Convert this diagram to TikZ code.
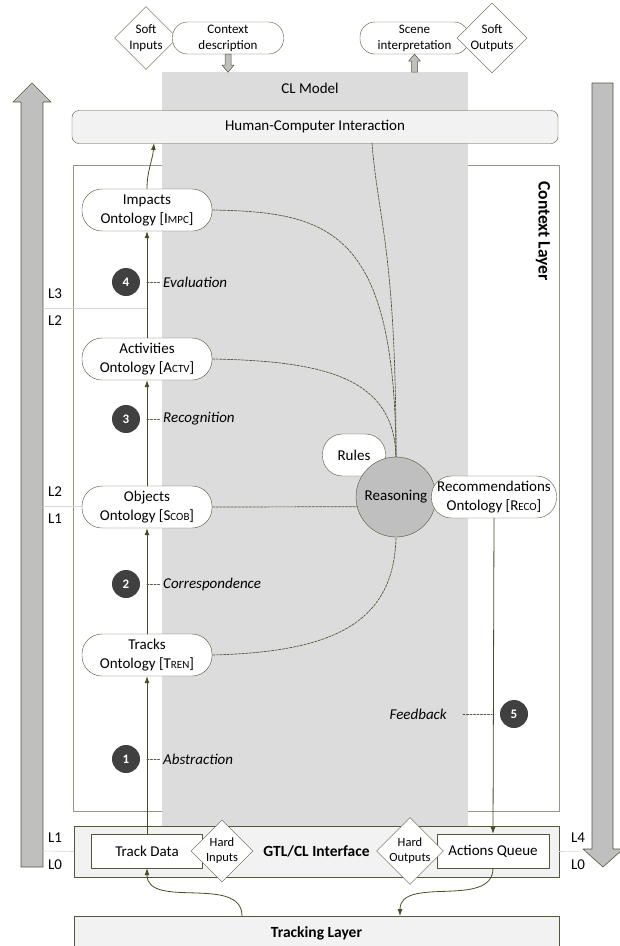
\documentclass[tikz,border=0pt]{standalone}
\usepackage{fontspec}
\setmainfont{Carlito}
\usetikzlibrary{shapes.geometric,arrows.meta}
\definecolor{olv}{RGB}{84,86,56}
\definecolor{arrc}{RGB}{66,80,32}
\definecolor{frm}{RGB}{150,150,128}
\definecolor{clg}{RGB}{220,220,220}
\definecolor{lgt}{RGB}{242,242,242}
\definecolor{midg}{RGB}{191,191,191}
\definecolor{dkg}{RGB}{64,64,64}
\definecolor{faint}{RGB}{215,215,215}
\newcommand{\fsc}[2]{#1{\fontsize{11}{12}\selectfont #2}}
\begin{document}
\begin{tikzpicture}[x=1pt, y=-1pt, line join=round, line cap=round, >={Latex[length=7pt,width=5pt]},
	font=\fontsize{15}{19}\selectfont,
	onto/.style={draw=olv, fill=white, rounded corners=20pt, minimum width=130pt, minimum height=42pt, inner sep=0pt, align=center},
	pill/.style={draw=olv, fill=white, rounded corners=15pt, minimum width=111pt, minimum height=32pt, inner sep=0pt, align=center, font=\fontsize{13}{16}\selectfont},
	dia/.style={diamond, aspect=1, draw=olv, fill=white, minimum size=62pt, inner sep=0pt, align=center, font=\fontsize{12.5}{15}\selectfont},
	box/.style={draw=olv, fill=white, minimum width=111pt, minimum height=34pt, inner sep=0pt},
	band/.style={draw=olv, fill=lgt, inner sep=0pt, font=\fontsize{15.5}{19}\selectfont\bfseries},
	num/.style={circle, fill=dkg, text=white, minimum size=28pt, inner sep=0pt, font=\fontsize{13}{15}\selectfont\bfseries},
	lab/.style={inner sep=2pt, font=\fontsize{15}{19}\selectfont\itshape},
	lvl/.style={inner sep=0pt},
	flow/.style={draw=arrc, line width=0.8pt, ->},
	link/.style={draw=olv, line width=0.7pt, dash pattern=on 2.5pt off 1.2pt},
	tick/.style={draw=olv, line width=0.6pt, dash pattern=on 2pt off 1.5pt},
	bigarr/.style={draw=olv, fill=midg, line width=0.6pt},
	smallarr/.style={draw=olv, fill=midg, line width=0.5pt}]
	\useasboundingbox (0,0) rectangle (620,946);
	% level arrows at the sides
	\draw[bigarr] (21,867) -- (21,102) -- (13,102) -- (32,83) -- (51,102) -- (43,102) -- (43,867) -- cycle;
	\draw[bigarr] (592,83) -- (613,83) -- (613,849) -- (623,849) -- (603,867) -- (583,849) -- (592,849) -- cycle;
	% context layer and CL model
	\draw[draw=frm, fill=white, line width=0.8pt] (73,165) rectangle (559,811);
	\fill[clg] (162,72) rectangle (468,826);
	\node (clm) at (310,88) {CL Model};
	\node[rotate=-90, font=\fontsize{17.5}{20}\selectfont\bfseries] (ctxl) at (543,231) {Context Layer};
	\draw[faint, line width=0.6pt] (43,308) -- (147,308) (43,506) -- (147,506);
	% bands
	\node[band, rounded corners=7pt, minimum width=486pt, minimum height=33pt, font=\fontsize{15}{19}\selectfont] (hci) at (315,127) {Human-Computer Interaction};
	\node[band, minimum width=485pt, minimum height=51pt] (gtl) at (316.5,851.5) {GTL/CL Interface};
	\node[band, minimum width=485pt, minimum height=34pt] (trl) at (316.5,933) {Tracking Layer};
	\draw[faint, line width=0.6pt] (43,851) -- (gtl.west) (gtl.east) -- (590,851);
	% level labels
	\foreach \x/\y/\t [count=\i] in {55/294/L3, 55/321/L2, 55/492/L2, 55/519/L1, 55/838/L1, 55/865/L0, 578/838/L4, 578/865/L0}
	\node[lvl] (lv\i) at (\x,\y) {\t};
	% ontologies
	\node[onto] (imp) at (147,210) {Impacts\\Ontology [\fsc{I}{MPC}]};
	\node[onto] (act) at (147,359) {Activities\\Ontology [\fsc{A}{CTV}]};
	\node[onto] (obj) at (147,507) {Objects\\Ontology [\fsc{S}{COB}]};
	\node[onto] (trk) at (147,655) {Tracks\\Ontology [\fsc{T}{REN}]};
	\node[onto, minimum width=63pt] (rul) at (354,455) {Rules};
	\node[circle, draw=olv, fill=midg, minimum size=80pt, inner sep=0pt] (rsn) at (396,497) {Reasoning};
	\node[onto, minimum width=125pt] (rec) at (494,497) {Recommendations\\Ontology [\fsc{R}{ECO}]};
	% interface
	\node[box] (td) at (147,851) {Track Data};
	\node[box, minimum width=112pt] (aq) at (493,851) {Actions Queue};
	\node[dia] (hin) at (222,851) {Hard\\Inputs};
	\node[dia] (hout) at (410,851) {Hard\\Outputs};
	% soft inputs and outputs
	\node[dia, minimum size=63pt, font=\fontsize{13}{16}\selectfont] (sin) at (146,38) {Soft\\Inputs};
	\node[pill] (ctx) at (228,38) {Context\\description};
	\node[pill, minimum width=109pt] (scn) at (414.5,38) {Scene\\interpretation};
	\node[dia, minimum size=63pt, font=\fontsize{13}{16}\selectfont] (sout) at (492,38) {Soft\\Outputs};
	\draw[smallarr, shift={(ctx.south)}] (-3,0) -- (3,0) -- (3,11) -- (6,11) -- (0,18) -- (-6,11) -- (-3,11) -- cycle;
	\draw[smallarr, shift={(scn.south)}] (-3,18) -- (3,18) -- (3,7) -- (6,7) -- (0,0) -- (-6,7) -- (-3,7) -- cycle;
	% flow
	\coordinate (hciin) at (154,143);
	\coordinate (hciout) at (372,143);
	\coordinate (tlout) at (242,916);
	\coordinate (tlin) at (400,916);
	\draw[flow] (td.north) -- (trk.south);
	\draw[flow] (trk.north) -- (obj.south);
	\draw[flow] (obj.north) -- (act.south);
	\draw[flow] (act.north) -- (imp.south);
	\draw[flow] (imp.north) to[out=90,in=-95] (hciin);
	\draw[flow] (rec.south) -- (aq.north);
	\draw[flow] (tlout) to[out=90,in=-90] (td.south);
	\draw[flow] (aq.south) to[out=-90,in=90] (tlin);
	% reasoning links
	\draw[link] (hciout) .. controls (378,220) and (396,250) .. (rsn.north);
	\draw[link] (imp.east) .. controls (330,212) and (395,230) .. (rsn.north);
	\draw[link] (act.east) .. controls (330,361) and (394,380) .. (rsn.north);
	\draw[link] (obj.east) -- (rsn.194);
	\draw[link] (trk.east) .. controls (330,652) and (394,625) .. (rsn.south);
	% steps
	\foreach \n/\y/\t in {1/759/Abstraction, 2/584/Correspondence, 3/419/Recognition, 4/282/Evaluation}{
		\node[num] (s\n) at (126,\y) {\n};
		\coordinate (a\n) at (147,\y);
		\node[lab, anchor=west] (l\n) at (161,\y) {\t};
		\draw[tick] (a\n) -- (l\n.west);
	}
	\node[num] (s5) at (514,714) {5};
	\coordinate (a5) at (492,714);
	\node[lab, anchor=east] (l5) at (449,714) {Feedback};
	\draw[tick, shorten <=14pt] (l5.east) -- (a5);
\end{tikzpicture}
\end{document}
